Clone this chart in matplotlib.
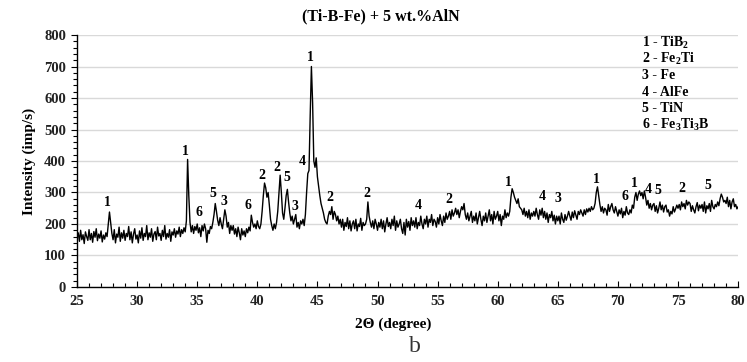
import numpy as np
import matplotlib
matplotlib.use("Agg")
import matplotlib.pyplot as plt
from matplotlib.ticker import MultipleLocator

plt.rcParams["font.family"] = "Liberation Serif"
plt.rcParams["font.weight"] = "bold"
plt.rcParams["mathtext.fontset"] = "custom"
plt.rcParams["mathtext.rm"] = "Liberation Serif:bold"
plt.rcParams["mathtext.it"] = "Liberation Serif:bold"
plt.rcParams["mathtext.bf"] = "Liberation Serif:bold"

# scan: 25..80 deg, one reading every 0.1 deg (one row = one degree)
theta_start, theta_step = 25.0, 0.1
intensity = [
    158, 172, 145, 180, 150, 166, 138, 175, 160, 148,   # 25
    182, 150, 170, 142, 176, 158, 185, 147, 168, 155,   # 26
    178, 143, 165, 152, 172, 160, 198, 238, 205, 170,   # 27
    150, 182, 140, 168, 158, 190, 145, 172, 155, 180,   # 28
    148, 170, 160, 192, 150, 175, 140, 168, 185, 152,   # 29
    165, 140, 178, 155, 188, 148, 170, 160, 195, 150,   # 30
    172, 158, 185, 145, 168, 176, 150, 190, 162, 170,   # 31
    148, 180, 160, 195, 152, 170, 158, 182, 145, 175,   # 32
    165, 185, 158, 178, 168, 190, 160, 182, 170, 188,   # 33
    175, 210, 405, 290, 205, 175, 195, 170, 192, 180,   # 34
    200, 172, 188, 160, 195, 178, 200, 185, 142, 180,   # 35
    170, 192, 185, 205, 230, 265, 240, 212, 195, 220,   # 36
    200, 185, 215, 245, 225, 190, 205, 170, 195, 180,   # 37
    195, 168, 185, 160, 190, 172, 150, 185, 165, 178,   # 38
    160, 185, 172, 190, 178, 228, 205, 190, 200, 185,   # 39
    210, 192, 185, 200, 240, 290, 330, 315, 285, 300,   # 40
    260, 215, 195, 180, 200, 185, 205, 240, 300, 355,   # 41
    300, 235, 215, 250, 290, 310, 270, 235, 210, 225,   # 42
    200, 215, 230, 190, 205, 185, 210, 200, 215, 195,   # 43
    230, 300, 360, 370, 545, 700, 585, 400, 380, 410,   # 44
    350, 320, 290, 265, 250, 235, 215, 205, 200, 225,   # 45
    240, 230, 255, 215, 240, 230, 210, 225, 200, 215,   # 46
    190, 215, 180, 205, 192, 220, 185, 210, 178, 200,   # 47
    210, 185, 215, 178, 200, 192, 218, 180, 205, 195,   # 48
    200, 215, 270, 225, 205, 190, 210, 185, 215, 200,   # 49
    180, 205, 190, 215, 185, 210, 175, 200, 220, 192,   # 50
    205, 185, 215, 195, 225, 180, 210, 190, 200, 215,   # 51
    185, 170, 205, 165, 215, 190, 208, 180, 220, 195,   # 52
    210, 190, 220, 185, 205, 195, 225, 200, 185, 215,   # 53
    200, 225, 190, 215, 205, 230, 195, 215, 208, 190,   # 54
    220, 200, 230, 210, 195, 225, 205, 235, 215, 225,   # 55
    240, 215, 245, 225, 235, 250, 230, 245, 220, 240,   # 56
    255, 245, 265, 230, 215, 235, 210, 225, 240, 205,   # 57
    225, 210, 235, 200, 220, 240, 215, 195, 225, 210,   # 58
    235, 205, 225, 245, 210, 230, 200, 240, 215, 225,   # 59
    240, 210, 230, 195, 225, 215, 245, 220, 235, 225,   # 60
    240, 285, 312, 300, 285, 275, 265, 280, 255, 250,   # 61
    245, 230, 250, 225, 240, 220, 245, 215, 235, 225,   # 62
    240, 225, 250, 230, 215, 245, 228, 250, 220, 240,   # 63
    215, 235, 205, 230, 220, 240, 210, 228, 200, 225,   # 64
    210, 225, 200, 235, 215, 205, 230, 212, 225, 240,   # 65
    225, 212, 238, 220, 242, 228, 215, 240, 230, 245,   # 66
    235, 225, 245, 230, 248, 238, 250, 240, 255, 245,   # 67
    250, 265, 300, 318, 290, 262, 240, 255, 235, 250,   # 68
    245, 228, 262, 240, 255, 265, 245, 235, 255, 240,   # 69
    225, 245, 232, 250, 220, 240, 228, 255, 235, 230,   # 70
    245, 235, 260, 250, 285, 300, 275, 295, 305, 290,   # 71
    300, 280, 305, 285, 260, 275, 250, 265, 245, 260,   # 72
    265, 240, 258, 235, 250, 270, 245, 260, 238, 255,   # 73
    260, 238, 245, 225, 240, 232, 255, 238, 248, 260,   # 74
    250, 262, 245, 270, 255, 265, 248, 275, 260, 270,   # 75
    265, 240, 258, 245, 235, 255, 268, 242, 260, 250,   # 76
    262, 240, 270, 235, 258, 248, 265, 240, 275, 255,   # 77
    248, 262, 255, 270, 258, 280, 295, 285, 270, 275,   # 78
    265, 285, 255, 275, 248, 270, 280, 255, 262, 248,   # 79
    255,                                                # 80
]

# phase numbers written above the reflections
peak_pos = [27.5, 34.0, 35.15, 36.3, 37.2, 39.2, 40.4, 41.6, 42.5, 43.1, 43.7, 44.4,
            46.0, 49.1, 53.4, 55.9, 60.9, 63.7, 65.0, 68.2, 70.6, 71.4, 72.5, 73.3,
            75.3, 77.5]
peak_hgt = [267, 429, 235, 298, 270, 260, 355, 378, 349, 254, 397, 727,
            283, 298, 260, 279, 333, 286, 282, 340, 286, 330, 311, 305,
            314, 321]
peak_lbl = ["1", "1", "6", "5", "3", "6", "2", "2", "5", "3", "4", "1",
            "2", "2", "4", "2", "1", "4", "3", "1", "6", "1", "4", "5",
            "2", "5"]

phases = ["1 - TiB$_2$", "2 - Fe$_2$Ti", "3 - Fe", "4 - AlFe", "5 - TiN",
          "6 - Fe$_3$Ti$_3$B"]

two_theta = theta_start + theta_step * np.arange(len(intensity))

fig = plt.figure(figsize=(7.47, 3.62), dpi=100)
ax = fig.add_axes([0.1031, 0.2072, 0.885, 0.6961])

ax.plot(two_theta, intensity, color="black", linewidth=1.0)

ax.set_xlim(25, 80)
ax.set_ylim(0, 800)
ax.xaxis.set_major_locator(MultipleLocator(5))
ax.xaxis.set_minor_locator(MultipleLocator(1))
ax.yaxis.set_major_locator(MultipleLocator(100))
ax.yaxis.set_minor_locator(MultipleLocator(20))
ax.grid(axis="y", color="#d9d9d9", linewidth=1.0)
ax.set_axisbelow(True)
for s in ("top", "right"):
    ax.spines[s].set_visible(False)
for s in ("left", "bottom"):
    ax.spines[s].set_color("black")
    ax.spines[s].set_linewidth(1.0)
ax.tick_params(which="both", direction="in", color="black", width=0.8)
ax.tick_params(which="major", length=4, labelsize=10.5, labelcolor="#222222")
ax.tick_params(which="minor", length=3)
ax.tick_params(axis="y", which="both", direction="out", pad=4)
ax.tick_params(axis="x", pad=6)

ax.set_ylabel("Intensity (imp/s)", fontsize=11, fontweight="bold", labelpad=6)
fig.text(393 / 747, 1 - 324 / 362, "2\u0398 (degree)", ha="center", va="center",
         fontsize=11, fontweight="bold")
fig.text(381 / 747, 1 - 16 / 362, "(Ti-B-Fe) + 5 wt.%AlN", ha="center", va="center",
         fontsize=11.5, fontweight="bold")

for x, h, t in zip(peak_pos, peak_hgt, peak_lbl):
    ax.text(x, h, t, ha="center", va="center", fontsize=10, fontweight="bold")

for i, p in enumerate(phases):
    ax.text(0.855, 0.969 - i * 0.0655, p, transform=ax.transAxes, ha="left",
            va="center", fontsize=10, fontweight="bold")

fig.text(415 / 747, 1 - 347 / 362, "b", ha="center", va="center", fontsize=17,
         fontweight="normal", color="#333333")

fig.savefig("out.png", dpi=100)
